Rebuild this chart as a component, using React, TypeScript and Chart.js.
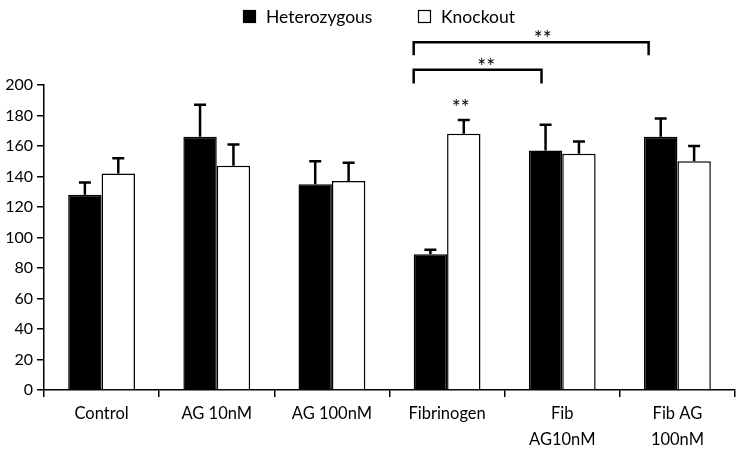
import React, { useEffect, useRef } from "react";
import { Chart, registerables } from "chart.js";

Chart.register(...registerables);

const categories: (string | string[])[] = [
  "Control",
  "AG 10nM",
  "AG 100nM",
  "Fibrinogen",
  ["Fib", "AG10nM"],
  ["Fib AG", "100nM"],
];
const seriesNames = ["Heterozygous", "Knockout"];
const heteroValues = [128, 166, 135, 89, 157, 166];
const heteroErrTop = [136, 187, 150, 92, 174, 178];
const knockoutValues = [142, 147, 137, 168, 155, 150];
const knockoutErrTop = [152, 161, 149, 177, 163, 160];
const yTicks = [0, 20, 40, 60, 80, 100, 120, 140, 160, 180, 200];

// significance brackets (positions in category-index units)
const brackets = [
  { from: 2.71, to: 3.82, y: 210, leg: 201, label: "**", labelAt: 3.34 },
  { from: 2.71, to: 4.75, y: 228, leg: 219.5, label: "**", labelAt: 3.83 },
];
const singleStars = [{ cat: 3, ds: 1, value: 189, label: "**" }];

const FONT = "Lato, 'Open Sans', sans-serif";

const overlayPlugin = {
  id: "overlay",
  afterDatasetsDraw(chart: any) {
    const ctx = chart.ctx;
    const yS = chart.scales.y;
    const xS = chart.scales.x;
    ctx.save();
    const errs = [heteroErrTop, knockoutErrTop];
    const vals = [heteroValues, knockoutValues];
    chart.data.datasets.forEach((_d: any, di: number) => {
      const meta = chart.getDatasetMeta(di);
      meta.data.forEach((bar: any, i: number) => {
        const x = bar.x;
        const yTop = yS.getPixelForValue(errs[di][i]);
        const yVal = yS.getPixelForValue(vals[di][i]);
        ctx.strokeStyle = "#000";
        ctx.lineWidth = 2.5;
        ctx.beginPath();
        ctx.moveTo(x, yVal);
        ctx.lineTo(x, yTop);
        ctx.moveTo(x - 6, yTop);
        ctx.lineTo(x + 6, yTop);
        ctx.stroke();
      });
    });
    const catW = xS.getPixelForValue(1) - xS.getPixelForValue(0);
    const px = (v: number) => xS.getPixelForValue(0) + v * catW;
    ctx.lineWidth = 2.5;
    ctx.strokeStyle = "#000";
    ctx.fillStyle = "#000";
    ctx.font = `21px ${FONT}`;
    ctx.textAlign = "center";
    ctx.textBaseline = "alphabetic";
    brackets.forEach((b) => {
      const x1 = px(b.from);
      const x2 = px(b.to);
      const y = yS.getPixelForValue(b.y);
      const yl = yS.getPixelForValue(b.leg);
      ctx.beginPath();
      ctx.moveTo(x1, yl);
      ctx.lineTo(x1, y);
      ctx.lineTo(x2, y);
      ctx.lineTo(x2, yl);
      ctx.stroke();
      ctx.fillText(b.label, px(b.labelAt), y + 4);
    });
    singleStars.forEach((s) => {
      const bar = chart.getDatasetMeta(s.ds).data[s.cat];
      ctx.fillText(s.label, bar.x - 3, yS.getPixelForValue(s.value) + 13);
    });
    ctx.font = `17.5px ${FONT}`;
    ctx.textAlign = "left";
    ctx.textBaseline = "middle";
    const legendItems = [
      { x: 243, fill: "#000" },
      { x: 418, fill: "#fff" },
    ];
    legendItems.forEach((it, i) => {
      ctx.fillStyle = it.fill;
      ctx.fillRect(it.x, 10, 13, 13);
      ctx.lineWidth = 1.2;
      ctx.strokeStyle = "#000";
      ctx.strokeRect(it.x + 0.5, 10.5, 12, 12);
      ctx.fillStyle = "#000";
      ctx.fillText(seriesNames[i], it.x + 23, 17);
    });
    ctx.restore();
  },
};

export default function App() {
  const ref = useRef<HTMLCanvasElement>(null);
  useEffect(() => {
    document.body.style.margin = "0";
    const canvas = ref.current!;
    const chart = new Chart(canvas, {
      type: "bar",
      data: {
        labels: categories,
        datasets: [
          {
            label: seriesNames[0],
            data: heteroValues,
            backgroundColor: "#000",
            borderColor: "#000",
            borderWidth: 1.5,
            categoryPercentage: 0.58,
            barPercentage: 1.0,
          },
          {
            label: seriesNames[1],
            data: knockoutValues,
            backgroundColor: "#fff",
            borderColor: "#000",
            borderWidth: 1.5,
            categoryPercentage: 0.58,
            barPercentage: 1.0,
          },
        ],
      },
      options: {
        animation: false,
        responsive: false,
        maintainAspectRatio: false,
        layout: { padding: { top: 85, right: 2, left: 0, bottom: 0 } },
        plugins: { legend: { display: false }, tooltip: { enabled: false } },
        scales: {
          x: {
            afterFit: (s: any) => {
              s.height = 60;
            },
            border: { color: "#000", width: 1.5 },
            grid: {
              offset: true,
              drawOnChartArea: false,
              drawTicks: true,
              tickLength: 7,
              color: "#000",
              lineWidth: 1.5,
            },
            ticks: {
              color: "#000",
              font: { family: FONT, size: 16.5, lineHeight: 1.62 },
              padding: 3,
              maxRotation: 0,
              autoSkip: false,
            },
          },
          y: {
            min: 0,
            max: 200,
            afterFit: (s: any) => {
              s.width = 44;
            },
            afterBuildTicks: (s: any) => {
              s.ticks = yTicks.map((v) => ({ value: v }));
            },
            border: { color: "#000", width: 1.5 },
            grid: {
              drawOnChartArea: false,
              drawTicks: true,
              tickLength: 7,
              color: "#000",
              lineWidth: 1.5,
            },
            ticks: {
              color: "#000",
              font: { family: FONT, size: 16 },
              padding: 4,
            },
          },
        },
      },
      plugins: [overlayPlugin],
    });
    return () => chart.destroy();
  }, []);
  return <canvas ref={ref} width={737} height={450} style={{ display: "block" }} />;
}
